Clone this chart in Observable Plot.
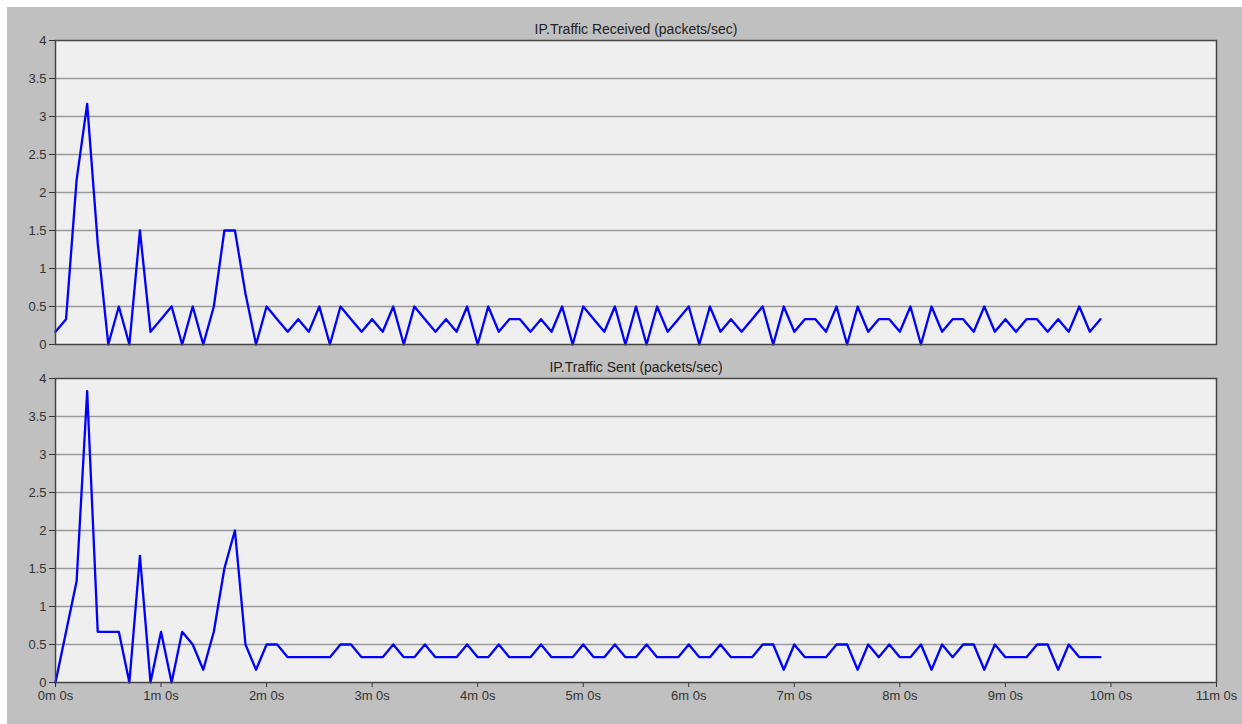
<!DOCTYPE html>
<html><head><meta charset="utf-8">
<script src="https://cdn.jsdelivr.net/npm/d3@7"></script>
<script src="https://cdn.jsdelivr.net/npm/@observablehq/plot@0.6"></script>
<style>
html,body{margin:0;padding:0;background:#fff;}
#wrap{position:relative;width:1242px;height:724px;overflow:hidden;background:#fff;}
#bg{position:absolute;left:7px;top:7px;width:1235px;height:717px;background:#c0c0c0;}
#top{position:absolute;left:0;top:0;}
#bottom{position:absolute;left:0;top:352px;}
svg{display:block;}
</style></head><body>
<div id="wrap"><div id="bg"></div><div id="top"></div><div id="bottom"></div></div>
<script>
const receivedTitle = "IP.Traffic Received (packets/sec)";
const sentTitle = "IP.Traffic Sent (packets/sec)";

// packets/sec, one sample every 6 seconds (0m 0s .. 9m 54s)
const received = [
  0.167, 0.333, 2.167, 3.167, 1.333, 0, 0.5, 0, 1.5, 0.167,
  0.333, 0.5, 0, 0.5, 0, 0.5, 1.5, 1.5, 0.667, 0,
  0.5, 0.333, 0.167, 0.333, 0.167, 0.5, 0, 0.5, 0.333, 0.167,
  0.333, 0.167, 0.5, 0, 0.5, 0.333, 0.167, 0.333, 0.167, 0.5,
  0, 0.5, 0.167, 0.333, 0.333, 0.167, 0.333, 0.167, 0.5, 0,
  0.5, 0.333, 0.167, 0.5, 0, 0.5, 0, 0.5, 0.167, 0.333,
  0.5, 0, 0.5, 0.167, 0.333, 0.167, 0.333, 0.5, 0, 0.5,
  0.167, 0.333, 0.333, 0.167, 0.5, 0, 0.5, 0.167, 0.333, 0.333,
  0.167, 0.5, 0, 0.5, 0.167, 0.333, 0.333, 0.167, 0.5, 0.167,
  0.333, 0.167, 0.333, 0.333, 0.167, 0.333, 0.167, 0.5, 0.167, 0.333
];
const sent = [
  0, 0.667, 1.333, 3.833, 0.667, 0.667, 0.667, 0, 1.667, 0,
  0.667, 0, 0.667, 0.5, 0.167, 0.667, 1.5, 2.0, 0.5, 0.167,
  0.5, 0.5, 0.333, 0.333, 0.333, 0.333, 0.333, 0.5, 0.5, 0.333,
  0.333, 0.333, 0.5, 0.333, 0.333, 0.5, 0.333, 0.333, 0.333, 0.5,
  0.333, 0.333, 0.5, 0.333, 0.333, 0.333, 0.5, 0.333, 0.333, 0.333,
  0.5, 0.333, 0.333, 0.5, 0.333, 0.333, 0.5, 0.333, 0.333, 0.333,
  0.5, 0.333, 0.333, 0.5, 0.333, 0.333, 0.333, 0.5, 0.5, 0.167,
  0.5, 0.333, 0.333, 0.333, 0.5, 0.5, 0.167, 0.5, 0.333, 0.5,
  0.333, 0.333, 0.5, 0.167, 0.5, 0.333, 0.5, 0.5, 0.167, 0.5,
  0.333, 0.333, 0.333, 0.5, 0.5, 0.167, 0.5, 0.333, 0.333, 0.333
];
// sample times in minutes (6-second bins)
const minutes = received.map((_, i) => i / 10);

const yTicks = [0, 0.5, 1, 1.5, 2, 2.5, 3, 3.5, 4];
const xTicks = [0, 1, 2, 3, 4, 5, 6, 7, 8, 9, 10, 11];
const xTickLabels = ["0m 0s", "1m 0s", "2m 0s", "3m 0s", "4m 0s", "5m 0s", "6m 0s",
                     "7m 0s", "8m 0s", "9m 0s", "10m 0s", "11m 0s"];

function panel(values, title, o) {
  const data = values.map((v, i) => ({t: minutes[i], v}));
  return Plot.plot({
    width: 1242, height: o.height,
    marginLeft: 55, marginRight: 26, marginTop: o.mt, marginBottom: o.mb,
    style: {background: "transparent", fontFamily: "'Liberation Sans', Arial, sans-serif", fontSize: "13px", color: "#333", overflow: "visible"},
    x: {domain: [0, 11], axis: null},
    y: {domain: [0, 4], axis: null},
    marks: [
      Plot.frame({fill: "#efefef"}),
      Plot.ruleY(yTicks.filter(d => d > 0 && d < 4), {stroke: "#9a9a9a", strokeWidth: 1.5}),
      Plot.axisY({ticks: yTicks, tickSize: 6, tickPadding: 3, label: null, tickFormat: d => String(d)}),
      ...(o.xAxis ? [Plot.axisX({ticks: xTicks, tickFormat: d => xTickLabels[xTicks.indexOf(d)], tickSize: 5, tickPadding: 3, label: null})] : []),
      Plot.line(data, {x: "t", y: "v", stroke: "#0000ff", strokeWidth: 2.3}),
      Plot.frame({stroke: "#444", strokeWidth: 1.5}),
      Plot.text([title], {text: d => d, frameAnchor: "top", lineAnchor: "middle", dy: o.titleDy, fill: "#222", fontSize: 14})
    ]
  });
}

document.getElementById("top").append(panel(received, receivedTitle, {height: 352, mt: 40, mb: 8, xAxis: false, titleDy: -11}));
document.getElementById("bottom").append(panel(sent, sentTitle, {height: 372, mt: 26, mb: 42, xAxis: true, titleDy: -10.5}));
</script>
</body></html>
